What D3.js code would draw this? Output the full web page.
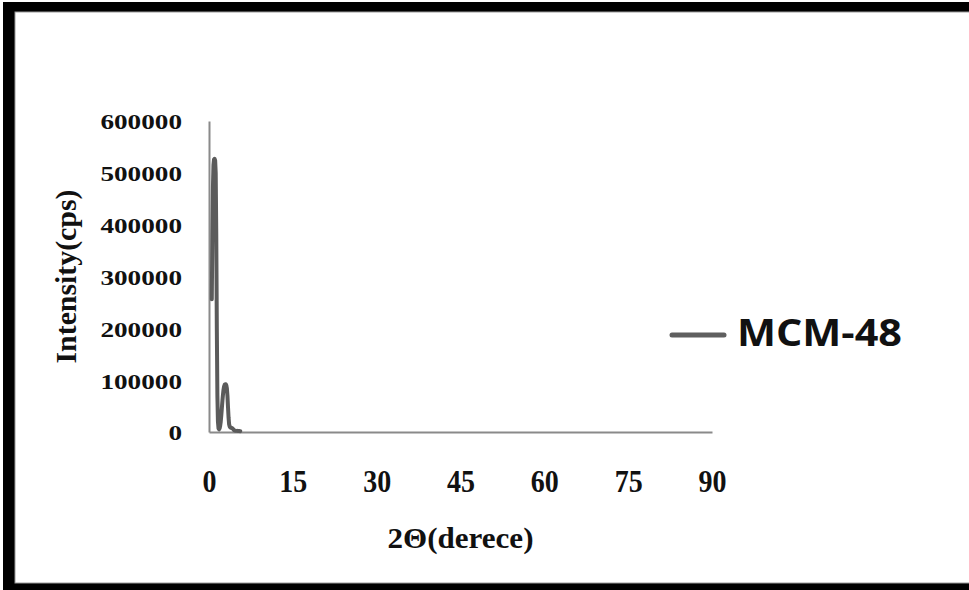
<!DOCTYPE html>
<html>
<head>
<meta charset="utf-8">
<script src="https://cdn.jsdelivr.net/npm/d3@7"></script>
<style>
  html, body { margin: 0; padding: 0; background: #fff; }
  svg { display: block; }
</style>
</head>
<body>
<svg id="chart" width="969" height="590"></svg>
<script>
// Small-angle XRD pattern of MCM-48
const twoTheta = [
  0.5, 0.6, 0.7, 0.8, 0.9, 1.0, 1.1, 1.2, 1.3, 1.4, 1.5, 1.6, 1.7, 1.8, 1.9,
  2.0, 2.1, 2.2, 2.3, 2.4, 2.5, 2.6, 2.7, 2.8, 2.9, 3.0, 3.1, 3.2, 3.3, 3.4,
  3.5, 3.6, 3.7, 3.8, 3.9, 4.0, 4.1, 4.2, 4.3, 4.4, 4.5, 4.6, 4.8, 5.0, 5.2, 5.4, 5.6
];
const intensity = [
  256000, 380000, 470000, 515000, 526000, 527000, 524000, 500000, 380000, 200000, 70000, 20000, 7000, 5000, 7000,
  12000, 20000, 32000, 46000, 60000, 72000, 82000, 88000, 91000, 92000, 92000, 90000, 84000, 70000, 48000,
  28000, 15000, 10500, 9000, 8500, 8000, 7500, 7000, 6000, 4500, 3500, 3000, 2500, 2200, 2000, 1800, 1600
];
const xTicks = [0, 15, 30, 45, 60, 75, 90];
const yTicks = [0, 100000, 200000, 300000, 400000, 500000, 600000];
const seriesName = "MCM-48";
const xTitle = "2Θ(derece)";
const yTitle = "Intensity(cps)";

const svg = d3.select("#chart");
const serif = "'Liberation Serif', 'Times New Roman', serif";

// outer frame
svg.append("rect").attr("x", 3).attr("y", 2).attr("width", 1000).attr("height", 600).attr("fill", "#000");
svg.append("rect").attr("x", 15).attr("y", 12).attr("width", 980).attr("height", 571)
  .attr("fill", "#fff").attr("stroke", "#9a9a9a").attr("stroke-width", 1);

const x = d3.scaleLinear().domain([0, 90]).range([209, 712]);
const y = d3.scaleLinear().domain([0, 600000]).range([432, 121]);

// y axis
const gy = svg.append("g").attr("transform", `translate(${x(0)},0)`)
  .call(d3.axisLeft(y).tickValues(yTicks).tickSize(0).tickSizeOuter(0).tickPadding(27).tickFormat(d3.format("d")));
gy.select(".domain").attr("stroke", "#8a8a8a").attr("stroke-width", 2);
gy.selectAll("text")
  .attr("font-family", serif).attr("font-weight", "bold").attr("font-size", 22)
  .attr("fill", "#111").attr("dy", "0.36em")
  .attr("textLength", d => String(d).length * 13.6).attr("lengthAdjust", "spacingAndGlyphs");

// x axis
const gx = svg.append("g").attr("transform", `translate(0,${y(0)})`)
  .call(d3.axisBottom(x).tickValues(xTicks).tickSize(0).tickSizeOuter(0).tickFormat(d3.format("d")));
gx.select(".domain").attr("stroke", "#8a8a8a").attr("stroke-width", 2);
gx.selectAll("text")
  .attr("font-family", serif).attr("font-weight", "bold").attr("font-size", 31)
  .attr("fill", "#111").attr("y", 60).attr("dy", 0)
  .attr("textLength", d => String(d).length * 14).attr("lengthAdjust", "spacingAndGlyphs");

// axis titles
svg.append("text").text(xTitle)
  .attr("x", (x(0) + x(90)) / 2).attr("y", 548).attr("text-anchor", "middle")
  .attr("font-family", serif).attr("font-weight", "bold").attr("font-size", 29).attr("fill", "#111")
  .attr("textLength", 146).attr("lengthAdjust", "spacingAndGlyphs");

svg.append("text").text(yTitle)
  .attr("transform", `translate(76,${(y(0) + y(600000)) / 2}) rotate(-90)`)
  .attr("text-anchor", "middle")
  .attr("font-family", serif).attr("font-weight", "bold").attr("font-size", 30).attr("fill", "#111")
  .attr("textLength", 174).attr("lengthAdjust", "spacingAndGlyphs");

// data series
const pts = twoTheta.map((t, i) => [t, intensity[i]]);
svg.append("path").datum(pts)
  .attr("fill", "none").attr("stroke", "#5b5b5b").attr("stroke-width", 4)
  .attr("stroke-linejoin", "round").attr("stroke-linecap", "round")
  .attr("d", d3.line().x(d => x(d[0])).y(d => y(d[1])));

// legend
const lg = svg.append("g");
lg.append("line").attr("x1", 672).attr("x2", 724).attr("y1", 335).attr("y2", 335)
  .attr("stroke", "#5f5f5f").attr("stroke-width", 5).attr("stroke-linecap", "round");
lg.append("text").text(seriesName).attr("x", 737).attr("y", 346)
  .attr("font-family", "'Open Sans', 'Noto Sans', sans-serif").attr("font-weight", "bold")
  .attr("font-size", 38).attr("fill", "#111")
  .attr("textLength", 165).attr("lengthAdjust", "spacingAndGlyphs");
</script>
</body>
</html>
